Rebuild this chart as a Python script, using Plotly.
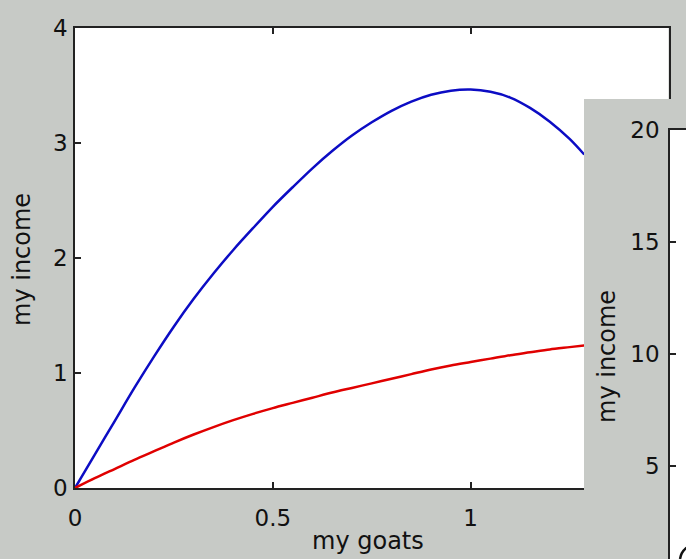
import plotly.graph_objects as go

# ---- data ----
goats = [0.0, 0.05, 0.1, 0.15, 0.2, 0.25, 0.3, 0.35, 0.4, 0.45, 0.5, 0.55, 0.6, 0.65,
         0.7, 0.75, 0.8, 0.85, 0.9, 0.95, 1.0, 1.05, 1.1, 1.15, 1.2, 1.25, 1.287]
income_blue = [0.0, 0.29, 0.58, 0.87, 1.145, 1.405, 1.645, 1.865, 2.07, 2.26, 2.445, 2.615, 2.78, 2.93,
               3.065, 3.18, 3.28, 3.36, 3.42, 3.455, 3.465, 3.445, 3.395, 3.305, 3.185, 3.035, 2.90]
income_red = [0.0, 0.085, 0.165, 0.245, 0.32, 0.395, 0.465, 0.53, 0.59, 0.645, 0.695, 0.74, 0.785, 0.83,
              0.87, 0.91, 0.95, 0.99, 1.03, 1.065, 1.095, 1.125, 1.155, 1.18, 1.205, 1.225, 1.24]

# second (partially hidden) window: a curve barely visible in the corner
goats2 = [0.0253, 0.0296, 0.0404, 0.0505]
income2 = [0.848, 1.10, 1.33, 1.43]

x_ticks = [0, 0.5, 1]
x_ticklabels = ["0", "0.5", "1"]
y_ticks = [0, 1, 2, 3, 4]
y2_ticks = [5, 10, 15, 20]

GRAY = "#c7cac6"
AXC = "#222222"
FONT = "DejaVu Sans"
W, H = 686, 559

def px(x):
    return x / W

def py(y):
    return 1 - y / H

fig = go.Figure()
fig.add_trace(go.Scatter(x=goats, y=income_blue, mode="lines",
                         line=dict(color="#0c0cc4", width=2.5, shape="spline", smoothing=0.8),
                         xaxis="x", yaxis="y"))
fig.add_trace(go.Scatter(x=goats, y=income_red, mode="lines",
                         line=dict(color="#e00000", width=2.5, shape="spline", smoothing=0.8),
                         xaxis="x", yaxis="y"))
fig.add_trace(go.Scatter(x=goats2, y=income2, mode="lines",
                         line=dict(color="#111111", width=2.5, shape="spline"),
                         xaxis="x2", yaxis="y2"))
fig.add_trace(go.Scatter(x=[], y=[], xaxis="x3", yaxis="y3"))

tickfont = dict(family=FONT, size=23, color="#111111")
common = dict(showgrid=False, zeroline=False, linecolor=AXC, linewidth=1.5, automargin=False,
              tickcolor=AXC, tickwidth=1.5, ticklen=6, tickfont=tickfont, fixedrange=True)
plain = dict(showgrid=False, zeroline=False, linecolor=AXC, linewidth=1.5, automargin=False,
             ticks="", showticklabels=False, fixedrange=True)

fig.update_layout(
    width=W, height=H,
    margin=dict(l=0, r=0, t=0, b=0, pad=0, autoexpand=False),
    paper_bgcolor=GRAY, plot_bgcolor="white",
    showlegend=False,
    xaxis=dict(domain=[px(75), px(584)], range=[0, 1.2864], anchor="y",
               tickvals=x_ticks, ticktext=x_ticklabels, ticks="inside",
               showline=True, mirror="ticks", ticklabelstandoff=9, **common),
    yaxis=dict(domain=[py(488), py(28)], range=[0, 4], anchor="x",
               tickvals=y_ticks, ticks="inside", showline=True, mirror=False,
               ticklabelstandoff=1, **common),
    xaxis3=dict(domain=[px(584), px(668.5)], range=[0, 1], anchor="y3", side="top",
                showline=True, mirror=False, **plain),
    yaxis3=dict(domain=[py(99), py(28)], range=[0, 1], anchor="x3", side="right",
                showline=True, mirror=False, **plain),
    xaxis2=dict(domain=[px(670), 1], range=[0, 0.0404], anchor="y2", side="top",
                showline=True, mirror=False, **plain),
    yaxis2=dict(domain=[0, py(130)], range=[0.848, 20], anchor="x2",
                tickvals=y2_ticks, ticks="inside", showline=True, mirror=False,
                ticklabelstandoff=4, **common),
    annotations=[
        dict(text="my goats", x=px(368), y=py(541), xref="paper", yref="paper",
             xanchor="center", yanchor="middle", showarrow=False,
             font=dict(family=FONT, size=24, color="#111111")),
        dict(text="my income", x=px(22), y=py(260), xref="paper", yref="paper",
             xanchor="center", yanchor="middle", showarrow=False, textangle=-90,
             font=dict(family=FONT, size=24, color="#111111")),
        dict(text="my income", x=px(607), y=py(357), xref="paper", yref="paper",
             xanchor="center", yanchor="middle", showarrow=False, textangle=-90,
             font=dict(family=FONT, size=24, color="#111111")),
    ],
)

fig.write_html("out.html", config={"displayModeBar": False},
               post_script="document.body.style.margin='0';document.body.style.overflow='hidden';")
